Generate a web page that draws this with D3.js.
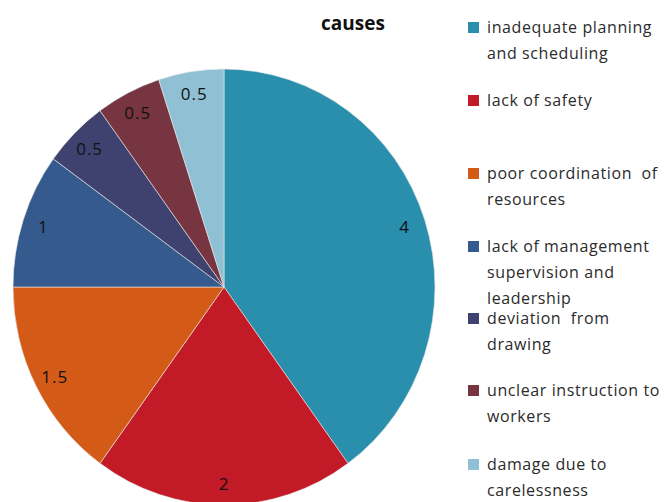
<!DOCTYPE html>
<html>
<head>
<meta charset="utf-8">
<script src="https://cdn.jsdelivr.net/npm/d3@7"></script>
<style>
  body { margin: 0; background: #fff; }
  text { font-family: "Open Sans", sans-serif; }
</style>
</head>
<body>
<div id="chart"></div>
<script>
let causes = ["inadequate planning and scheduling", "lack of safety", "poor coordination of resources",
  "lack of management supervision and leadership", "deviation from drawing",
  "unclear instruction to workers", "damage due to carelessness"]
// legend lines as wrapped in the picture
let legendLines = [
  ["inadequate planning", "and scheduling"],
  ["lack of safety"],
  ["poor coordination  of", "resources"],
  ["lack of management", "supervision and", "leadership"],
  ["deviation  from", "drawing"],
  ["unclear instruction to", "workers"],
  ["damage due to", "carelessness"]
]
let values = [4, 2, 1.5, 1, 0.5, 0.5, 0.5]
let colors = ["#2a8fad", "#c21a26", "#d35a17", "#345a8e", "#3f416f", "#763540", "#8fc0d3"]

let width = 669, height = 502
let cx = 224, cy = 287
let rx = 211, ry = 218

let svg = d3.select('#chart').append('svg')
  .attr('width', width).attr('height', height)

let data = causes.map((c, i) => ({cause: c, value: values[i], color: colors[i]}))

let pie = d3.pie().sort(null).value(d => d.value)
let arcs = pie(data)
let arc = d3.arc().innerRadius(0).outerRadius(rx)

// pie is slightly taller than wide in the picture
let g = svg.append('g')
  .attr('transform', "translate(" + cx + "," + cy + ") scale(1," + (ry / rx) + ")")

g.selectAll('path')
  .data(arcs)
  .enter().append('path')
  .attr('d', arc)
  .attr('fill', d => d.data.color)
  .attr('stroke', '#e8e8e8')
  .attr('stroke-width', 0.6)

let labelR = 190
svg.append('g').selectAll('text')
  .data(arcs)
  .enter().append('text')
  .attr('x', d => cx + labelR * Math.sin((d.startAngle + d.endAngle) / 2))
  .attr('y', d => cy - labelR * (ry / rx) * Math.cos((d.startAngle + d.endAngle) / 2))
  .attr('text-anchor', 'middle')
  .attr('dominant-baseline', 'central')
  .attr('font-size', 17)
  .attr('letter-spacing', 1)
  .attr('fill', '#111')
  .text(d => d.data.value)

svg.append('text')
  .attr('x', 353).attr('y', 30)
  .attr('text-anchor', 'middle')
  .attr('font-size', 19)
  .attr('font-weight', 'bold')
  .attr('fill', '#111')
  .text('causes')

let legend = svg.append('g').selectAll('g')
  .data(data)
  .enter().append('g')
  .attr('transform', (d, i) => "translate(468," + [27, 100, 173, 246, 318, 390, 464][i] + ")")

legend.append('rect')
  .attr('x', 0).attr('y', -5)
  .attr('width', 11).attr('height', 11)
  .attr('fill', d => d.color)

legend.each(function(d, i) {
  let t = d3.select(this).append('text')
    .attr('x', 19).attr('y', 0)
    .attr('font-size', 16)
    .attr('letter-spacing', 0.6)
    .attr('fill', '#2b2b2b')
  legendLines[i].forEach((line, k) => {
    t.append('tspan')
      .attr('x', 19)
      .attr('y', k * 26)
      .attr('dy', '0.35em')
      .style('white-space', 'pre')
      .text(line)
  })
})
</script>
</body>
</html>
